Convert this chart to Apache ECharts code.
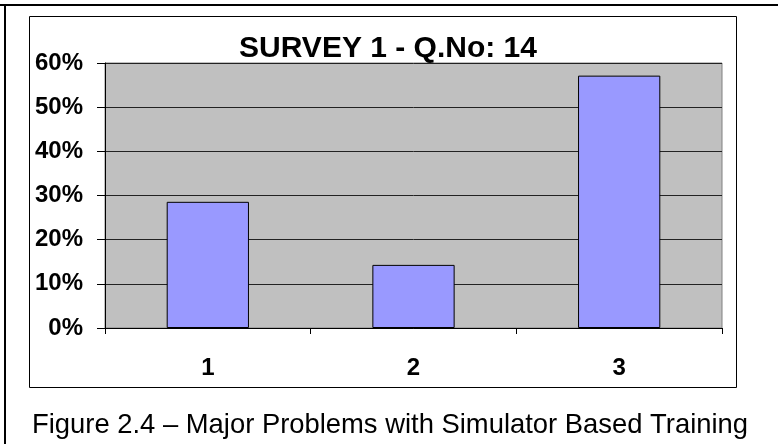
<!DOCTYPE html>
<html>
<head>
<meta charset="utf-8">
<script src="https://cdn.jsdelivr.net/npm/echarts@6/dist/echarts.min.js"></script>
<style>
html,body{margin:0;padding:0;background:#fff;}
#c{width:778px;height:444px;}
</style>
</head>
<body>
<div id="c"></div>
<script>
const titleText = 'SURVEY 1 - Q.No: 14';
const captionText = 'Figure 2.4 \u2013 Major Problems with Simulator Based Training';
const categories = ['1', '2', '3'];
const values = [28.57, 14.29, 57.14];
const yTicks = [0, 10, 20, 30, 40, 50, 60];

const FONT = 'Arial, "Liberation Sans", sans-serif';
const chart = echarts.init(document.getElementById('c'), null, {renderer: 'canvas'});
chart.setOption({
  animation: false,
  backgroundColor: '#fff',
  title: {
    text: titleText,
    left: 383, textAlign: 'center',
    top: 29,
    textStyle: {fontFamily: FONT, fontWeight: 'bold', fontSize: 30, color: '#000'}
  },
  graphic: [
    {type: 'line', shape: {x1: 0, y1: 5, x2: 778, y2: 5}, style: {stroke: '#000', lineWidth: 2}},
    {type: 'line', shape: {x1: 5, y1: 4, x2: 5, y2: 444}, style: {stroke: '#000', lineWidth: 2}},
    {type: 'rect', shape: {x: 29.5, y: 16.5, width: 707, height: 371}, style: {fill: null, stroke: '#000', lineWidth: 1}, z: -1},
    {type: 'text', left: 32, top: 412, style: {text: captionText, font: '27.4px ' + FONT, fill: '#000'}}
  ],
  grid: {
    left: 105, right: 56, top: 63, bottom: 116,
    show: true, backgroundColor: '#C0C0C0', borderColor: '#808080', borderWidth: 1
  },
  xAxis: {
    type: 'category',
    data: categories,
    axisLine: {lineStyle: {color: '#000', width: 1}},
    axisTick: {show: true, length: 6, lineStyle: {color: '#000'}},
    axisLabel: {margin: 28, fontFamily: FONT, fontWeight: 'bold', fontSize: 24, color: '#000'}
  },
  yAxis: {
    type: 'value',
    min: yTicks[0], max: yTicks[yTicks.length - 1], interval: 10,
    axisLine: {show: true, lineStyle: {color: '#000', width: 1}},
    axisTick: {show: true, length: 8, lineStyle: {color: '#000'}},
    splitLine: {show: true, lineStyle: {color: '#222', width: 1}},
    axisLabel: {margin: 22, formatter: '{value}%', fontFamily: FONT, fontWeight: 'bold', fontSize: 24, color: '#000'}
  },
  series: [{
    type: 'bar',
    data: values,
    barWidth: '40%',
    itemStyle: {color: '#9999FF', borderColor: '#000', borderWidth: 1}
  }]
});
</script>
</body>
</html>
